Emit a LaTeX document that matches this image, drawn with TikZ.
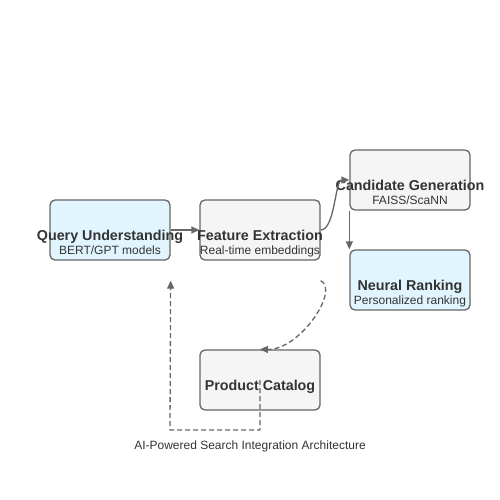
\documentclass[tikz,border=0pt]{standalone}
\usepackage{fontspec}
\setmainfont{Liberation Sans}
\usetikzlibrary{arrows.meta}
\definecolor{boxline}{HTML}{666666}
\definecolor{bluefill}{HTML}{E1F5FE}
\definecolor{grayfill}{HTML}{F5F5F5}
\definecolor{txt}{HTML}{333333}
\begin{document}
\begin{tikzpicture}[x=1pt, y=-1pt, line join=round, >={Triangle[length=8pt,width=7pt]},
  box/.style={draw=boxline, line width=1.3pt, rounded corners=5pt, minimum width=120pt, minimum height=60pt, inner sep=0pt},
  title/.style={anchor=base, text=txt, font=\fontsize{14.3}{16}\selectfont\bfseries, inner sep=0pt},
  sub/.style={anchor=base, text=txt, font=\fontsize{12}{14}\selectfont, inner sep=0pt},
  flow/.style={draw=boxline, line width=1.3pt, ->},
  back/.style={flow, dash pattern=on 5pt off 3pt}]
  \useasboundingbox (0,0) rectangle (500,500);
  % boxes
  \node[box, fill=bluefill] (query) at (110,230) {};
  \node[box, fill=grayfill] (feature) at (260,230) {};
  \node[box, fill=grayfill] (candidate) at (410,180) {};
  \node[box, fill=bluefill] (ranking) at (410,280) {};
  \node[box, fill=grayfill] (catalog) at (260,380) {};
  % texts
  \node[title] (query-t) at (110,240) {Query Understanding};
  \node[sub] (query-s) at (110,254.5) {BERT/GPT models};
  \node[title] (feature-t) at (260,240) {Feature Extraction};
  \node[sub] (feature-s) at (260,254.5) {Real-time embeddings};
  \node[title] (candidate-t) at (410,190) {Candidate Generation};
  \node[sub] (candidate-s) at (410,204.5) {FAISS/ScaNN};
  \node[title] (ranking-t) at (410,290) {Neural Ranking};
  \node[sub] (ranking-s) at (410,304.5) {Personalized ranking};
  \node[title] (catalog-t) at (260,390) {Product Catalog};
  \node[sub] (caption) at (250,449.5) {AI-Powered Search Integration Architecture};
  % connectors
  \coordinate (fb) at ([yshift=-20pt]feature.south east);
  \coordinate (qb) at ([yshift=-20pt]query.south east);
  \draw[flow] (query.east) -- (feature.west);
  \draw[flow] (feature.east) .. controls (335,230) and (335,180) .. (candidate.west);
  \draw[flow] (candidate.south west) -- (ranking.north west);
  \draw[back] (fb) .. controls (340,290) and (300,350) .. (catalog.north);
  \draw[back] (catalog.center) -- (260,430) -- (170,430) -- (qb);
\end{tikzpicture}
\end{document}
